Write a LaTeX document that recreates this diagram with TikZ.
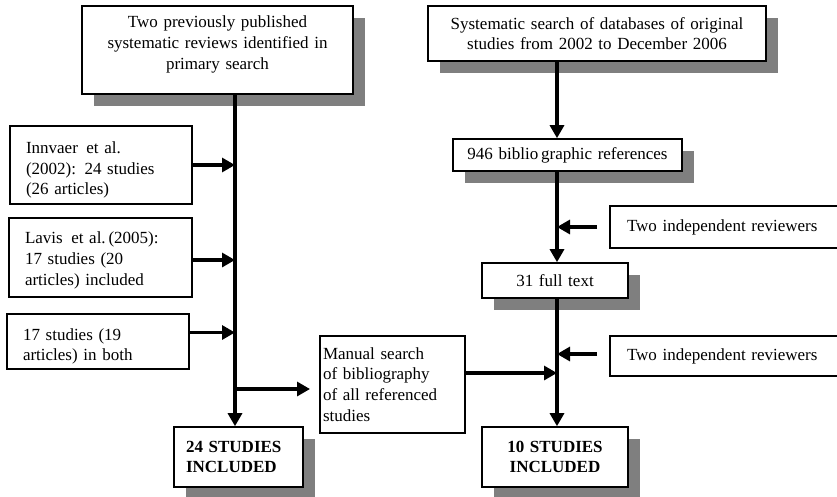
\documentclass[tikz,border=0pt]{standalone}
\usepackage{fontspec}
\setmainfont{Liberation Serif}
\usetikzlibrary{arrows.meta,calc,shadows}
\definecolor{shade}{HTML}{7F7F7F}
\begin{document}
\begin{tikzpicture}[x=1pt,y=-1pt,
  box/.style={draw=black, line width=1.6pt, fill=white, inner ysep=0pt,
    font=\fontsize{17}{20.8}\selectfont},
  shaded/.style={box, drop shadow={shadow xshift=12pt, shadow yshift=-12pt,
    fill=shade, opacity=1}},
  conn/.style={line width=3.1pt, -{Triangle[length=13pt,width=14pt]}}]
\useasboundingbox (0,0) rectangle (837,496);

% left column
\node[shaded, minimum width=271pt, minimum height=88pt, text width=261pt,
  inner xsep=5pt, align=center, text depth=56pt] (src) at (217.5,50)
  {Two previously published\\ systematic reviews identified in\\ primary search};
\node[box, minimum width=182pt, minimum height=78pt, text width=164pt,
  inner xsep=9pt, align=left, text height=21.7pt] (inn) at (101,165)
  {\hspace*{7pt}Innvaer\, et al.\\ \hspace*{7pt}(2002): 24 studies\\ \hspace*{7pt}(26 articles)};
\node[box, minimum width=183pt, minimum height=79pt, text width=165pt,
  inner xsep=9pt, align=left, text height=17.7pt] (lav) at (100.5,257.5)
  {\hspace*{7pt}Lavis\, et al.\,(2005):\\ \hspace*{7pt}17 studies (20\\ \hspace*{7pt}articles) included};
\node[box, minimum width=182pt, minimum height=55pt, text width=164pt,
  inner xsep=9pt, align=left, text height=21.7pt] (both) at (98,341.5)
  {\hspace*{7pt}17 studies (19\\ \hspace*{7pt}articles) in both};
\node[box, minimum width=145pt, minimum height=97pt, text width=139pt,
  inner xsep=3pt, align=left] (man) at (392.5,384.5)
  {Manual search\\ of bibliography\\ of all referenced\\ studies};
\node[shaded, minimum width=129pt, minimum height=60pt, text width=113pt,
  inner xsep=8pt, align=left, font=\fontsize{17}{20.8}\selectfont\bfseries] (s24) at (238.5,457)
  {\hspace*{4pt}24 STUDIES\\ \hspace*{4pt}INCLUDED};

% right column
\node[shaded, minimum width=338pt, minimum height=55pt, text width=328pt,
  inner xsep=5pt, align=center] (db) at (597,33.5)
  {Systematic search of databases of original\\ studies from 2002 to December 2006};
\node[shaded, minimum width=229pt, minimum height=32pt, text width=215pt,
  inner xsep=5pt, align=center] (bib) at (567.5,155)
  {946 biblio\,graphic references};
\node[box, minimum width=235pt, minimum height=42pt, text width=201pt,
  inner xsep=17pt, align=left] (rev1) at (727.5,227)
  {Two independent reviewers};
\node[shaded, minimum width=146pt, minimum height=35pt, text width=136pt,
  inner xsep=5pt, align=center] (full) at (555,280.5)
  {31 full text};
\node[box, minimum width=235pt, minimum height=40pt, text width=201pt,
  inner xsep=17pt, align=left] (rev2) at (727.5,356)
  {Two independent reviewers};
\node[shaded, minimum width=146pt, minimum height=60pt, text width=136pt,
  inner xsep=5pt, align=center, font=\fontsize{17}{20.8}\selectfont\bfseries] (s10) at (555,457)
  {10 STUDIES\\ INCLUDED};

% spine positions and free ends
\coordinate (lx) at (235,0);
\coordinate (rx) at (557,0);
\coordinate (bothout) at ($(both.east)+(0,-9)$);
\coordinate (fork) at (235,389);
\coordinate (manin) at (310,389);
\coordinate (manout) at (465,373);
\coordinate (r1out) at ($(rev1.west)+(-12,0)$);
\coordinate (r2out) at ($(rev2.west)+(-12,-2)$);

% left flow
\draw[conn] (src.south -| lx) -- (s24.north -| lx);
\draw[conn] (inn.east) -- (inn.east -| lx);
\draw[conn] ($(lav.east)+(0,2.5)$) -- ($(lav.east -| lx)+(0,2.5)$);
\draw[conn] (bothout) -- (bothout -| lx);
\draw[conn] (fork) -- (manin);

% right flow
\draw[conn] (db.south -| rx) -- (bib.north -| rx);
\draw[conn] (bib.south -| rx) -- (full.north -| rx);
\draw[conn] (full.south -| rx) -- (s10.north -| rx);
\draw[conn] (r1out) -- (r1out -| rx);
\draw[conn] (r2out) -- (r2out -| rx);
\draw[conn] (manout) -- (manout -| rx);
\end{tikzpicture}
\end{document}
